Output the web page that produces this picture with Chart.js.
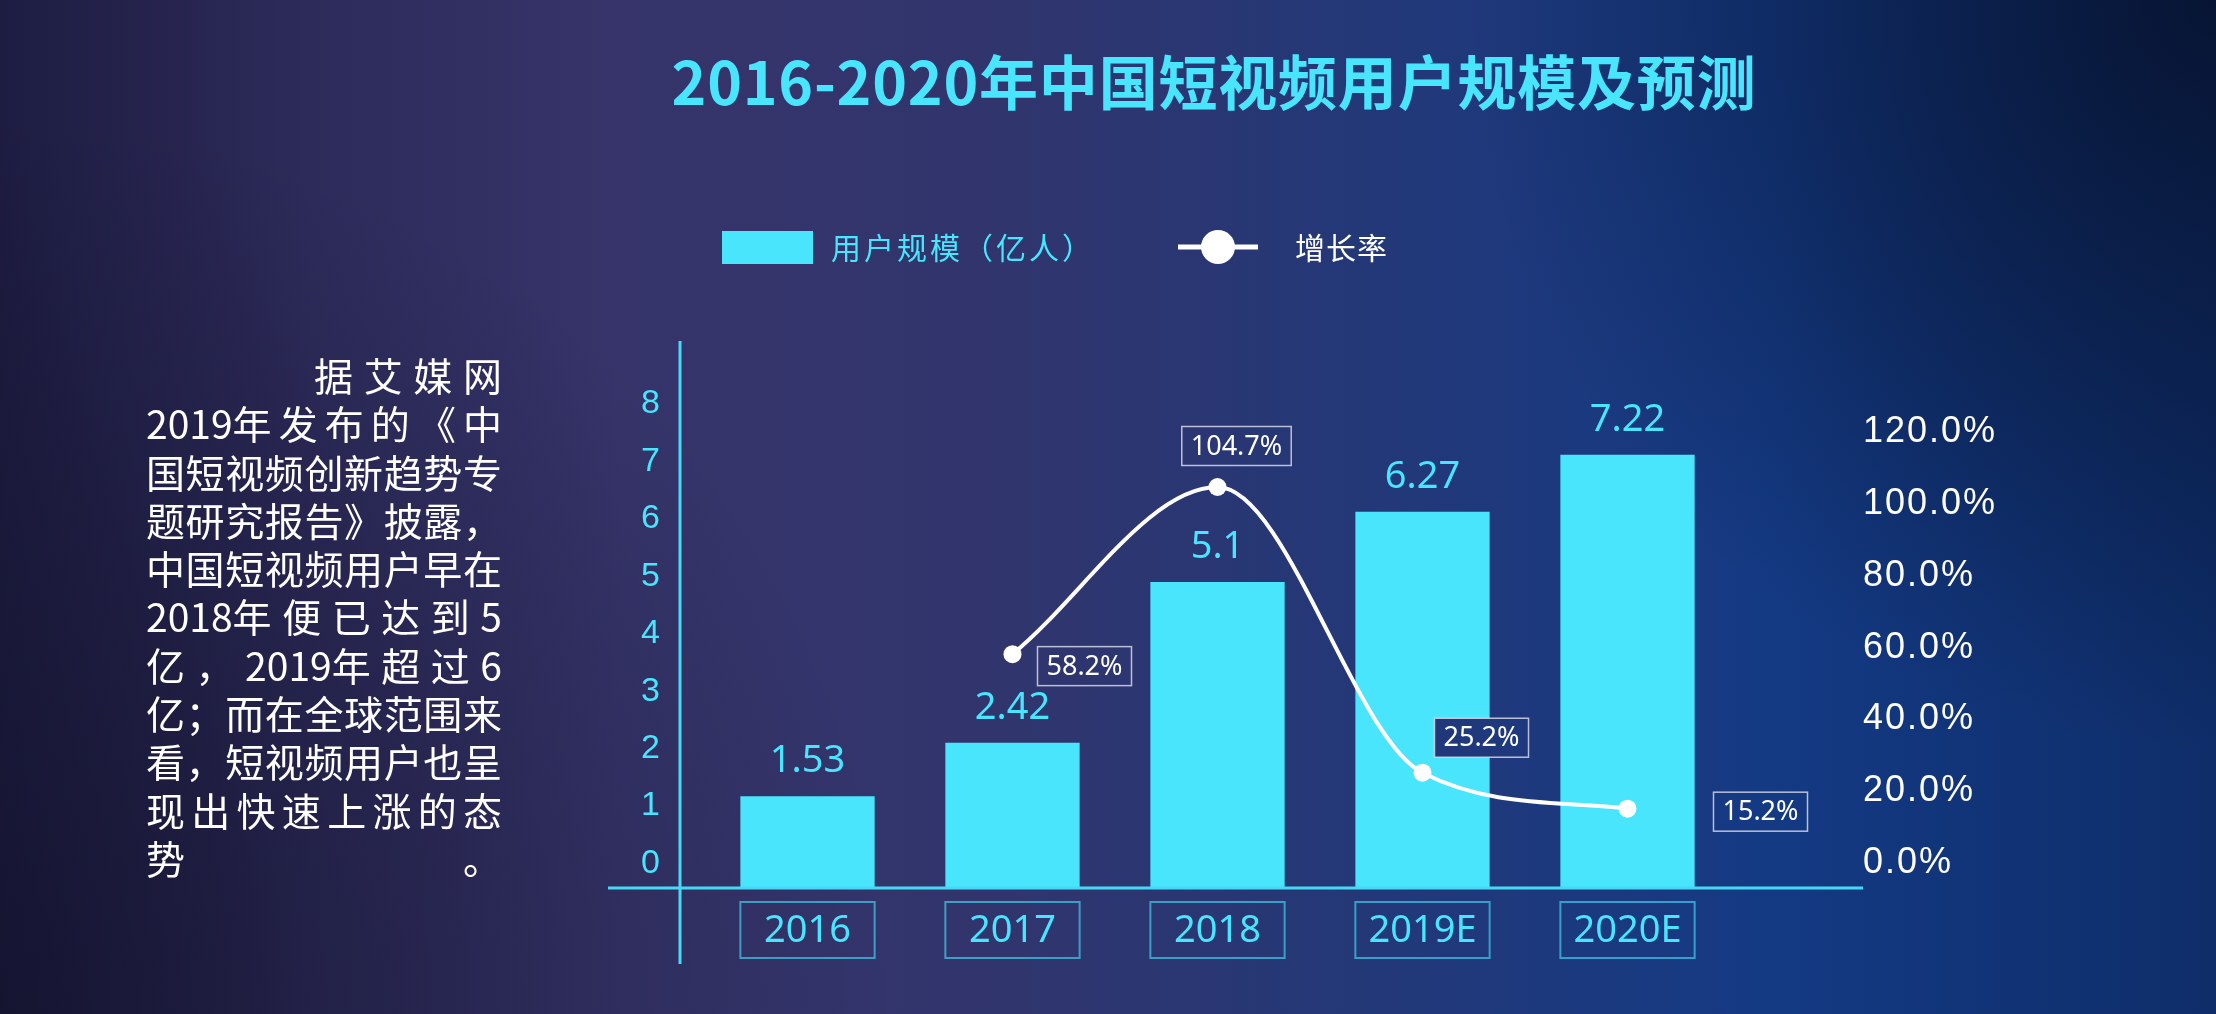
<!DOCTYPE html>
<html>
<head>
<meta charset="utf-8">
<script src="https://cdn.jsdelivr.net/npm/chart.js@4.4.1/dist/chart.umd.min.js"></script>
<style>
  html, body { margin: 0; padding: 0; width: 2216px; height: 1014px; overflow: hidden; background: #252858; }
  #wrap { position: relative; width: 2216px; height: 1014px; }
  #c { position: absolute; left: 0; top: 0; }
  #title { position: absolute; left: 214px; width: 2000px; top: 40px; height: 80px; line-height: 80px;
           text-align: center; color: #48e5fd; font-family: "Noto Sans CJK SC", sans-serif; font-weight: 700;
           font-size: 59px; letter-spacing: 0.8px; z-index: 2; }
  #para { position: absolute; left: 146px; top: 350px; width: 356px; color: #ffffff; z-index: 2;
          font-family: "Noto Sans CJK SC", sans-serif; font-size: 39px; line-height: 48.3px; }
  #para div { text-align: justify; text-align-last: justify; white-space: nowrap; height: 48.3px; }
  #para span.nb { display: inline-block; }
</style>
</head>
<body>
<div id="wrap">
  <canvas id="c" width="2216" height="1014"></canvas>
  <div id="title"></div>
  <div id="para"></div>
</div>
<script>
// ---------- data ----------
const categories = ['2016', '2017', '2018', '2019E', '2020E'];
const userScale = [1.53, 2.42, 5.1, 6.27, 7.22];          // 用户规模（亿人）
const growthRate = [null, 58.2, 104.7, 25.2, 15.2];        // 增长率 (%)
const leftTicks = [0, 1, 2, 3, 4, 5, 6, 7, 8];
const rightTicks = [0, 20, 40, 60, 80, 100, 120];
const seriesNames = ['用户规模（亿人）', '增长率'];
const titleText = '2016-2020年中国短视频用户规模及预测';
const paragraphLines = [
  '据艾媒网',
  '2019年发布的《中',
  '国短视频创新趋势专',
  '题研究报告》披露，',
  '中国短视频用户早在',
  '2018年便已达到5',
  '亿，2019年超过6',
  '亿；而在全球范围来',
  '看，短视频用户也呈',
  '现出快速上涨的态',
  '势。'
];

// ---------- text blocks ----------
document.getElementById('title').textContent = titleText;
const para = document.getElementById('para');
paragraphLines.forEach((t, i) => {
  const d = document.createElement('div');
  // keep "2019年"-style year groups tight while the rest of the line is justified
  const parts = t.split(/(\d{4}年)/);
  parts.forEach(p => {
    if (!p) return;
    if (/^\d{4}年$/.test(p)) {
      const s = document.createElement('span');
      s.className = 'nb';
      s.textContent = p;
      d.appendChild(s);
    } else {
      d.appendChild(document.createTextNode(p));
    }
  });
  if (i === 0) d.style.paddingLeft = '168px';
  para.appendChild(d);
});

// ---------- styles ----------
const CYAN = '#48e5fd';
const W = 2216, H = 1014;

function paintBackground(ctx) {
  const g = ctx.createLinearGradient(0, 0, W, 0);
  g.addColorStop(0.00, '#1d1c41');
  g.addColorStop(0.14, '#2d2b5a');
  g.addColorStop(0.28, '#36346a');
  g.addColorStop(0.45, '#31356d');
  g.addColorStop(0.62, '#233878');
  g.addColorStop(0.80, '#143a84');
  g.addColorStop(1.00, '#0e2d69');
  ctx.fillStyle = g;
  ctx.fillRect(0, 0, W, H);
  let r = ctx.createRadialGradient(W, 0, 0, W, 0, 750);
  r.addColorStop(0, 'rgba(6,16,42,0.85)');
  r.addColorStop(1, 'rgba(6,16,42,0)');
  ctx.fillStyle = r;
  ctx.fillRect(0, 0, W, H);
  r = ctx.createRadialGradient(0, H, 0, 0, H, 900);
  r.addColorStop(0, 'rgba(14,14,36,0.55)');
  r.addColorStop(1, 'rgba(14,14,36,0)');
  ctx.fillStyle = r;
  ctx.fillRect(0, 0, W, H);
}

const bgPlugin = {
  id: 'bg',
  beforeDraw(chart) {
    const ctx = chart.ctx;
    ctx.save();
    paintBackground(ctx);
    ctx.restore();
  },
  afterDraw(chart) {
    chart.ctx.letterSpacing = '0px';
  }
};

const decoPlugin = {
  id: 'deco',
  afterDatasetsDraw(chart, args, opts) {
    const ctx = chart.ctx;
    const ca = chart.chartArea;
    const xs = chart.scales.x;
    const barMeta = chart.getDatasetMeta(0);
    const lineMeta = chart.getDatasetMeta(1);
    ctx.save();

    // axis cross lines
    ctx.strokeStyle = '#45d9f5';
    ctx.lineWidth = 3;
    ctx.beginPath();
    ctx.moveTo(ca.left - 97, ca.bottom);
    ctx.lineTo(ca.right + 133, ca.bottom);
    ctx.moveTo(ca.left - 25, ca.top);
    ctx.lineTo(ca.left - 25, ca.bottom + 76);
    ctx.stroke();

    // bar value labels
    ctx.fillStyle = CYAN;
    ctx.font = '38px "Noto Sans", sans-serif';
    ctx.textAlign = 'center';
    ctx.textBaseline = 'alphabetic';
    barMeta.data.forEach((bar, i) => {
      ctx.fillText(String(userScale[i]), bar.x, bar.y - 24);
    });

    // category label boxes
    ctx.font = '38px "Noto Sans", sans-serif';
    ctx.textBaseline = 'middle';
    categories.forEach((c, i) => {
      const x = xs.getPixelForValue(i);
      const bw = barMeta.data[i].width;
      ctx.strokeStyle = 'rgba(72,229,253,0.6)';
      ctx.lineWidth = 2;
      ctx.strokeRect(x - bw / 2, ca.bottom + 14, bw, 56);
      ctx.fillStyle = CYAN;
      ctx.fillText(c, x, ca.bottom + 43);
    });

    // growth-rate label boxes
    const offs = opts.rateLabelOffsets;
    ctx.font = '27px "Noto Sans", sans-serif';
    lineMeta.data.forEach((pt, i) => {
      const v = growthRate[i];
      if (v === null || v === undefined) return;
      const txt = v.toFixed(1) + '%';
      const tw = ctx.measureText(txt).width;
      const bw = tw + 18, bh = 39;
      const cx = pt.x + offs[i][0], cy = pt.y + offs[i][1];
      const bx = cx - bw / 2, by = cy - bh / 2;
      ctx.save();
      ctx.beginPath();
      ctx.rect(bx, by, bw, bh);
      ctx.clip();
      paintBackground(ctx);
      ctx.restore();
      ctx.strokeStyle = 'rgba(215,215,230,0.85)';
      ctx.lineWidth = 1.5;
      ctx.strokeRect(bx, by, bw, bh);
      ctx.fillStyle = '#ffffff';
      ctx.textAlign = 'center';
      ctx.textBaseline = 'middle';
      ctx.fillText(txt, cx, cy + 1);
    });

    // legend
    const ds = chart.data.datasets;
    const lx = ca.left + 17, ly = ca.top - 94;
    ctx.fillStyle = ds[0].backgroundColor;
    ctx.fillRect(lx, ly - 16, 91, 33);
    ctx.font = '30px "Noto Sans CJK SC", sans-serif';
    ctx.textAlign = 'left';
    ctx.textBaseline = 'middle';
    ctx.fillStyle = CYAN;
    ctx.letterSpacing = '3px';
    ctx.fillText(ds[0].label, lx + 109, ly + 1);
    ctx.letterSpacing = '1px';
    const l2 = lx + 456;
    ctx.strokeStyle = ds[1].borderColor;
    ctx.lineWidth = 5;
    ctx.beginPath();
    ctx.moveTo(l2, ly);
    ctx.lineTo(l2 + 80, ly);
    ctx.stroke();
    ctx.fillStyle = ds[1].pointBackgroundColor;
    ctx.beginPath();
    ctx.arc(l2 + 40, ly, 17, 0, Math.PI * 2);
    ctx.fill();
    ctx.fillStyle = '#ffffff';
    ctx.fillText(ds[1].label, l2 + 117, ly + 1);

    ctx.restore();
    // right-axis tick labels (drawn after datasets, ticks.z:1) use a little tracking
    ctx.letterSpacing = '2px';
  }
};

function noPad(s) { s.paddingTop = 0; s.paddingBottom = 0; s.paddingLeft = 0; s.paddingRight = 0; }

new Chart(document.getElementById('c'), {
  type: 'bar',
  data: {
    labels: categories,
    datasets: [
      {
        type: 'bar',
        label: seriesNames[0],
        data: userScale,
        yAxisID: 'y',
        backgroundColor: CYAN,
        borderWidth: 0,
        categoryPercentage: 1,
        barPercentage: 0.655,
        order: 1
      },
      {
        type: 'line',
        label: seriesNames[1],
        data: growthRate,
        yAxisID: 'yR',
        borderColor: '#ffffff',
        borderWidth: 4,
        pointRadius: 9,
        pointBackgroundColor: '#ffffff',
        pointBorderWidth: 0,
        cubicInterpolationMode: 'monotone',
        fill: false,
        order: 0
      }
    ]
  },
  options: {
    responsive: false,
    animation: false,
    layout: { padding: { left: 605, right: 186, top: 341, bottom: 126 } },
    plugins: {
      legend: { display: false },
      tooltip: { enabled: false },
      deco: { rateLabelOffsets: [[0, 0], [72, 12], [19, -41], [59, -35], [133, 3]] }
    },
    scales: {
      x: { display: false, offset: true },
      y: { display: false, min: 0, max: 9.117 },
      yL: {
        position: 'left', min: -0.4265, max: 9.0968,
        grid: { display: false, drawTicks: false },
        border: { display: false },
        afterBuildTicks: s => { s.ticks = leftTicks.map(v => ({ value: v })); },
        afterFit: s => { s.width = 100; noPad(s); },
        ticks: { color: CYAN, padding: 45, font: { family: '"Liberation Sans", Arial, sans-serif', size: 34 } }
      },
      yR: {
        position: 'right', min: -6.87, max: 145.32,
        grid: { display: false, drawTicks: false },
        border: { display: false },
        afterBuildTicks: s => { s.ticks = rightTicks.map(v => ({ value: v })); },
        afterFit: s => { s.width = 300; noPad(s); },
        ticks: {
          z: 1,
          color: '#ffffff', padding: 133,
          font: { family: '"Liberation Sans", Arial, sans-serif', size: 36 },
          callback: v => Number(v).toFixed(1) + '%'
        }
      }
    }
  },
  plugins: [bgPlugin, decoPlugin]
});
</script>
</body>
</html>
